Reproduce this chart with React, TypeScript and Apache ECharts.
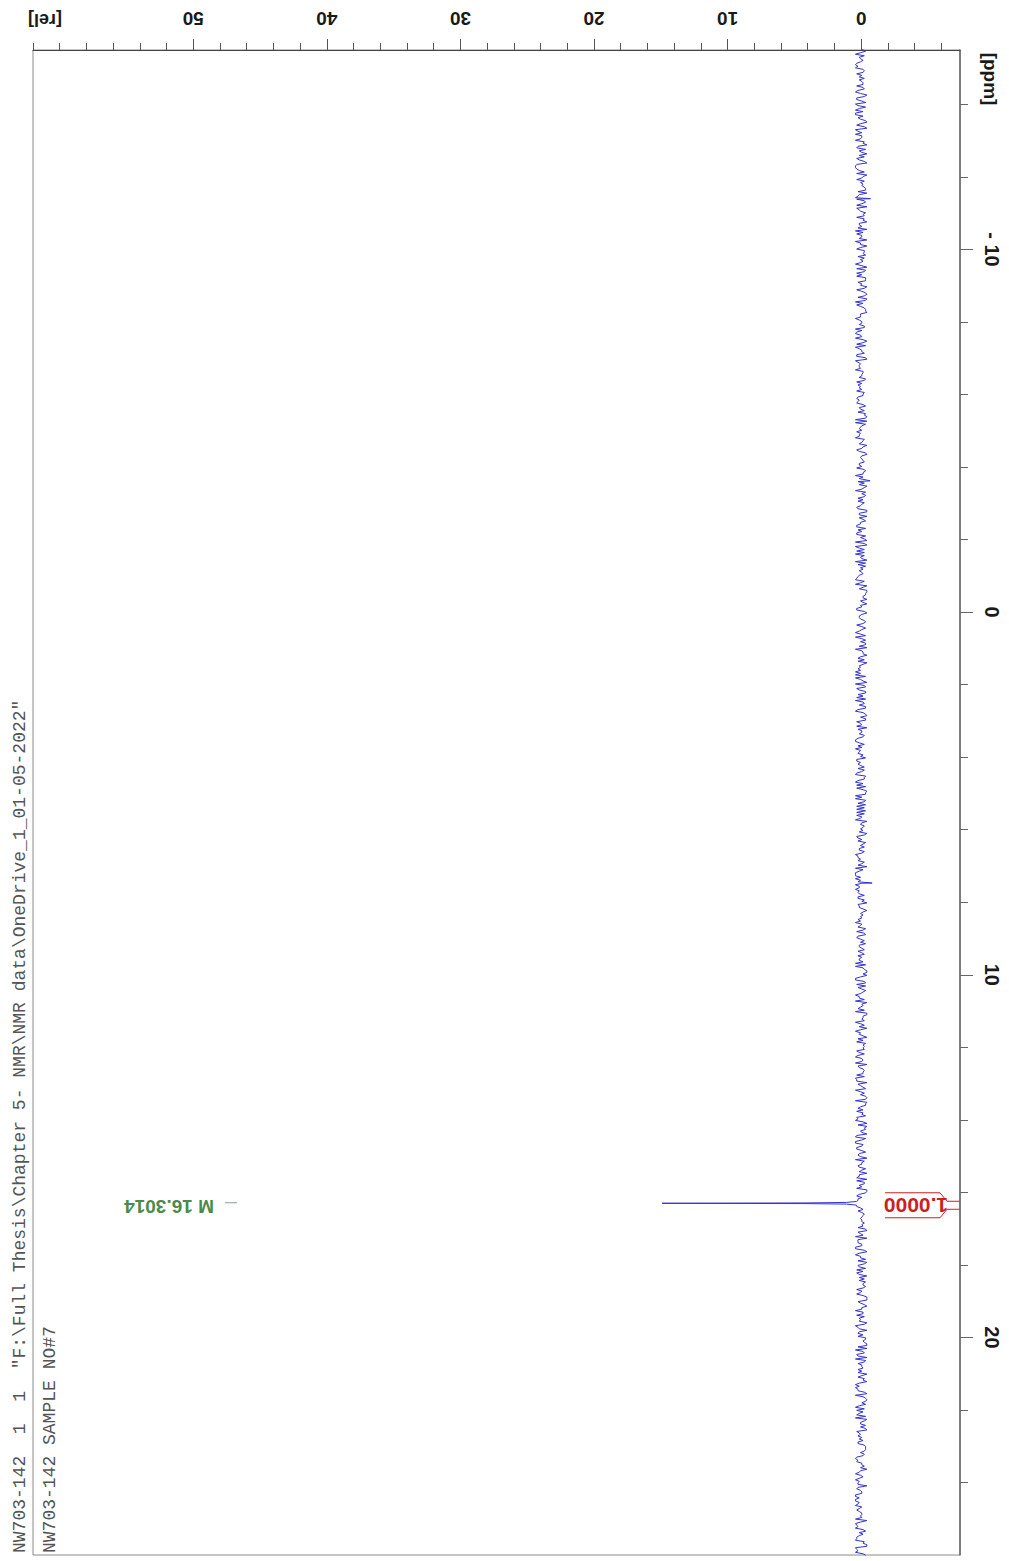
import React, { useEffect, useRef } from "react";
import * as echarts from "echarts";

// Axis ranges
const REL_MIN = -7.4;
const REL_MAX = 62;
const PPM_MIN = -15.5;
const PPM_MAX = 26;

// Tick values
const REL_MAJOR = [0, 10, 20, 30, 40, 50];
const REL_MINOR = [-6, -4, -2, 2, 4, 6, 8, 12, 14, 16, 18, 22, 24, 26, 28, 32, 34, 36, 38, 42, 44, 46, 48, 52, 54, 56, 58, 60, 62];
const PPM_MAJOR = [-10, 0, 10, 20];
const PPM_MINOR = [-14, -12, -8, -6, -4, -2, 2, 4, 6, 8, 12, 14, 16, 18, 22, 24];

// Baseline noise (hand-entered digits, 0..9 -> relative intensity offsets)
const NOISE_DIGITS =
  "14159265358979323846264338327950288419716939937510" +
  "58209749445923078164062862089986280348253421170679" +
  "82148086513282306647093844609550582231725359408128" +
  "48111745028410270193852110555964462294895493038196" +
  "44288109756659334461284756482337867831652712019091" +
  "45648566923460348610454326648213393607260249141273" +
  "72458700660631558817488152092096282925409171536436" +
  "78925903600113305305488204665213841469519415116094" +
  "33057270365759591953092186117381932611793105118548" +
  "07446237996274956735188575272489122793818301194912" +
  "71828182845904523536028747135266249775724709369995" +
  "95749669676277240766303535475945713821785251664274" +
  "27466391932003059921817413596629043572900334295260" +
  "59563073813232862794349076323382988075319525101901" +
  "15738341879307021540891499348841675092447614606680" +
  "82264800168477411853742345442437107539077744992069" +
  "55170276183860626133138458300075204493382656029760" +
  "67371132007093287091274437470472306969772093101416" +
  "92836819025515108657463772111252389784425056953696" +
  "77078544996996794686445490598793163688923009879312";
const NOISE_PPM_START = -15.55;
const NOISE_PPM_END = 26.05;
const NOISE_SCALE = 0.095;

// Small spikes in the baseline: [ppm, rel]
const SPIKES: [number, number][] = [
  [-11.4, -0.7],
  [-3.62, -0.67],
  [7.47, -0.82],
];

// The single peak: [ppm, rel]
const PEAK_PPM = 16.3014;
const PEAK_POINTS: [number, number][] = [
  [16.25, 0.35],
  [16.278, 1.1],
  [16.292, 4.2],
  [16.3014, 14.9],
  [16.31, 4.2],
  [16.324, 1.1],
  [16.352, 0.35],
];

const INTEGRAL_TEXT = "1.0000";
const PEAK_LABEL = "M 16.3014";
const HEADER_LINE_1 = 'NW703-142  1  1  "F:\\Full Thesis\\Chapter 5- NMR\\NMR data\\OneDrive_1_01-05-2022"';
const HEADER_LINE_2 = "NW703-142 SAMPLE NO#7";

function buildSpectrum(): [number, number][] {
  const pts: [number, number][] = [];
  const n = NOISE_DIGITS.length;
  const step = (NOISE_PPM_END - NOISE_PPM_START) / (n - 1);
  for (let i = 0; i < n; i++) {
    const d = Number(NOISE_DIGITS[i]);
    const ppm = NOISE_PPM_START + i * step;
    if (ppm > 16.24 && ppm < 16.36) continue;
    pts.push([ppm, (d - 4.5) * NOISE_SCALE]);
  }
  SPIKES.forEach((s) => pts.push([s[0], s[1]]));
  PEAK_POINTS.forEach((p) => pts.push([p[0], p[1]]));
  pts.sort((a, b) => a[0] - b[0]);
  return pts.map((p) => [p[1], p[0]]);
}

const SANS = "'Liberation Sans', Arial, sans-serif";
const MONO = "'Liberation Mono', 'Courier New', monospace";

export default function App() {
  const ref = useRef<HTMLDivElement>(null);

  useEffect(() => {
    document.body.style.margin = "0";
    document.body.style.overflow = "hidden";
    if (!ref.current) return;
    const chart = echarts.init(ref.current, undefined, { renderer: "svg" });

    const axisCommon = {
      type: "value" as const,
      splitLine: { show: false },
    };

    chart.setOption({
      animation: false,
      backgroundColor: "#ffffff",
      grid: {
        left: 33,
        top: 50,
        right: 49,
        bottom: 6,
        show: true,
        borderColor: "#8a8a8a",
        borderWidth: 1,
        containLabel: false,
      },
      xAxis: [
        {
          ...axisCommon,
          position: "top",
          inverse: true,
          min: REL_MIN,
          max: REL_MAX,
          axisLine: { show: true, onZero: false, lineStyle: { color: "#444", width: 1 } },
          axisTick: { show: true, customValues: REL_MAJOR, length: 11, lineStyle: { color: "#555" } },
          axisLabel: {
            show: true,
            customValues: REL_MAJOR,
            rotate: 180,
            margin: 22,
            fontSize: 19,
            fontWeight: "bold",
            fontFamily: SANS,
            color: "#1a1a1a",
          },
        },
        {
          ...axisCommon,
          position: "top",
          inverse: true,
          min: REL_MIN,
          max: REL_MAX,
          axisLine: { show: false, onZero: false },
          axisTick: { show: true, customValues: REL_MINOR, length: 7, lineStyle: { color: "#555" } },
          axisLabel: { show: false },
        },
      ],
      yAxis: [
        {
          ...axisCommon,
          position: "right",
          inverse: true,
          min: PPM_MIN,
          max: PPM_MAX,
          axisLine: { show: true, onZero: false, lineStyle: { color: "#666", width: 1.5 } },
          axisTick: { show: true, customValues: PPM_MAJOR, length: 13, lineStyle: { color: "#666" } },
          axisLabel: {
            show: true,
            customValues: PPM_MAJOR,
            rotate: -90,
            margin: 22,
            fontSize: 20,
            fontWeight: "bold",
            fontFamily: SANS,
            color: "#1a1a1a",
            formatter: (v: number) => (v < 0 ? "- " + Math.abs(v) : String(v)),
          },
        },
        {
          ...axisCommon,
          position: "right",
          inverse: true,
          min: PPM_MIN,
          max: PPM_MAX,
          axisLine: { show: false, onZero: false },
          axisTick: { show: true, customValues: PPM_MINOR, length: 8, lineStyle: { color: "#666" } },
          axisLabel: { show: false },
        },
      ],
      series: [
        {
          type: "line",
          xAxisIndex: 0,
          yAxisIndex: 0,
          data: buildSpectrum(),
          showSymbol: false,
          symbol: "none",
          silent: true,
          lineStyle: { color: "#3434cc", width: 1 },
        },
      ],
    });

    const peakPx = chart.convertToPixel({ xAxisIndex: 0, yAxisIndex: 0 }, [0, PEAK_PPM]) as number[];
    const py = peakPx[1];
    const red = "#cc1f1f";

    chart.setOption({
      graphic: [
        {
          type: "text",
          x: 45,
          y: 20,
          rotation: Math.PI,
          style: { text: "[rel]", fill: "#1a1a1a", font: `bold 18px ${SANS}`, textAlign: "center", textVerticalAlign: "middle" },
        },
        {
          type: "text",
          x: 990,
          y: 79,
          rotation: -Math.PI / 2,
          style: { text: "[ppm]", fill: "#1a1a1a", font: `bold 19px ${SANS}`, textAlign: "center", textVerticalAlign: "middle" },
        },
        {
          type: "text",
          x: 20,
          y: 1553,
          rotation: Math.PI / 2,
          style: { text: HEADER_LINE_1, fill: "#555", font: `18px ${MONO}`, textAlign: "left", textVerticalAlign: "middle" },
        },
        {
          type: "text",
          x: 50,
          y: 1553,
          rotation: Math.PI / 2,
          style: { text: HEADER_LINE_2, fill: "#555", font: `18px ${MONO}`, textAlign: "left", textVerticalAlign: "middle" },
        },
        {
          type: "text",
          x: 169,
          y: py + 3,
          rotation: Math.PI,
          style: { text: PEAK_LABEL, fill: "#4b8a4b", font: `bold 19px ${SANS}`, textAlign: "center", textVerticalAlign: "middle" },
        },
        {
          type: "line",
          shape: { x1: 225, y1: py - 0.5, x2: 237, y2: py - 0.5 },
          style: { stroke: "#8aa08a", lineWidth: 1 },
        },
        {
          type: "text",
          x: 916,
          y: py + 2,
          rotation: Math.PI,
          style: { text: INTEGRAL_TEXT, fill: red, font: `bold 21px ${SANS}`, textAlign: "center", textVerticalAlign: "middle" },
        },
        {
          type: "polyline",
          shape: { points: [[885, py - 10.5], [940, py - 10.5], [947, py - 2], [960, py - 2]] },
          style: { stroke: red, fill: null, lineWidth: 1 },
        },
        {
          type: "polyline",
          shape: { points: [[885, py + 14.5], [940, py + 14.5], [947, py + 6], [960, py + 6]] },
          style: { stroke: red, fill: null, lineWidth: 1 },
        },
      ],
    });

    return () => chart.dispose();
  }, []);

  return <div ref={ref} style={{ width: 1009, height: 1561 }} />;
}
